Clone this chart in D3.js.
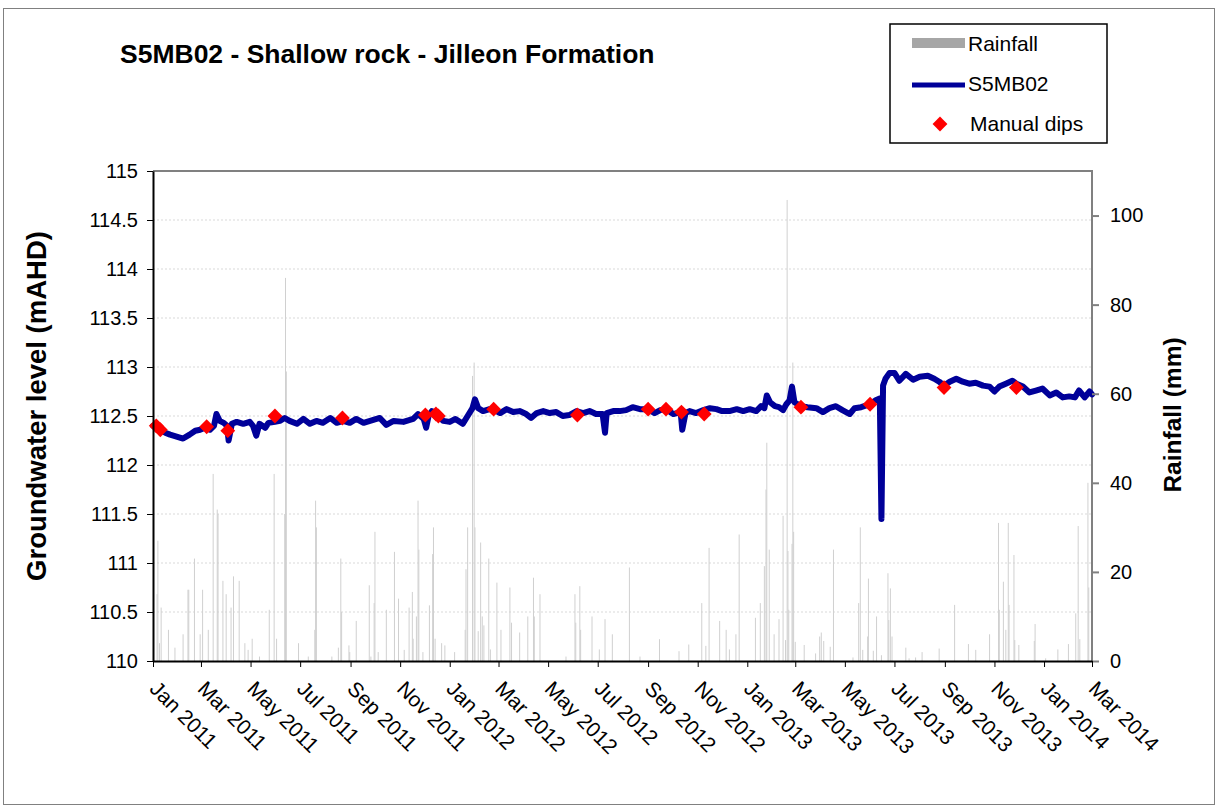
<!DOCTYPE html>
<html>
<head>
<meta charset="utf-8">
<script src="https://cdn.jsdelivr.net/npm/d3@7"></script>
<style>
  body { margin: 0; background: #fff; }
  svg text { font-family: "Liberation Sans", Arial, sans-serif; fill: #000; }
</style>
</head>
<body>
<div id="chart"></div>
<script>
// groundwater level S5MB02 (mAHD)
const levelSeries = [
  ["2011-01-01", 112.40], ["2011-01-16", 112.33], ["2011-01-22", 112.31], ["2011-01-30", 112.29],
  ["2011-02-07", 112.27], ["2011-02-15", 112.31], ["2011-02-22", 112.35], ["2011-02-28", 112.36],
  ["2011-03-06", 112.38], ["2011-03-12", 112.36], ["2011-03-17", 112.40], ["2011-03-20", 112.52],
  ["2011-03-24", 112.45], ["2011-03-29", 112.43], ["2011-04-02", 112.40], ["2011-04-04", 112.25],
  ["2011-04-08", 112.42], ["2011-04-14", 112.44], ["2011-04-22", 112.42], ["2011-04-30", 112.44],
  ["2011-05-04", 112.40], ["2011-05-08", 112.30], ["2011-05-12", 112.42], ["2011-05-19", 112.38],
  ["2011-05-23", 112.43], ["2011-05-31", 112.44], ["2011-06-06", 112.45], ["2011-06-12", 112.48],
  ["2011-06-18", 112.45], ["2011-06-27", 112.42], ["2011-07-05", 112.47], ["2011-07-13", 112.42],
  ["2011-07-21", 112.45], ["2011-07-29", 112.43], ["2011-08-07", 112.48], ["2011-08-15", 112.43],
  ["2011-08-23", 112.45], ["2011-08-31", 112.43], ["2011-09-08", 112.47], ["2011-09-17", 112.43],
  ["2011-09-25", 112.45], ["2011-10-07", 112.48], ["2011-10-15", 112.41], ["2011-10-24", 112.45],
  ["2011-11-05", 112.44], ["2011-11-17", 112.47], ["2011-11-23", 112.52], ["2011-11-30", 112.47],
  ["2011-12-03", 112.38], ["2011-12-06", 112.50], ["2011-12-10", 112.55], ["2011-12-16", 112.52],
  ["2011-12-24", 112.45], ["2012-01-01", 112.44], ["2012-01-08", 112.47], ["2012-01-17", 112.42],
  ["2012-01-23", 112.50], ["2012-01-29", 112.58], ["2012-02-01", 112.67], ["2012-02-05", 112.58],
  ["2012-02-11", 112.55], ["2012-02-19", 112.57], ["2012-02-25", 112.56], ["2012-03-03", 112.53],
  ["2012-03-11", 112.57], ["2012-03-19", 112.54], ["2012-03-27", 112.55], ["2012-04-04", 112.52],
  ["2012-04-10", 112.48], ["2012-04-17", 112.53], ["2012-04-25", 112.55], ["2012-05-03", 112.53],
  ["2012-05-11", 112.54], ["2012-05-19", 112.50], ["2012-05-27", 112.51], ["2012-06-05", 112.55],
  ["2012-06-13", 112.53], ["2012-06-21", 112.55], ["2012-06-29", 112.52], ["2012-07-07", 112.52],
  ["2012-07-10", 112.33], ["2012-07-12", 112.53], ["2012-07-20", 112.55], ["2012-07-28", 112.55],
  ["2012-08-05", 112.56], ["2012-08-13", 112.59], ["2012-08-22", 112.57], ["2012-09-01", 112.57],
  ["2012-09-09", 112.53], ["2012-09-16", 112.56], ["2012-09-23", 112.57], ["2012-10-02", 112.52],
  ["2012-10-11", 112.54], ["2012-10-13", 112.36], ["2012-10-17", 112.53], ["2012-10-22", 112.55],
  ["2012-10-30", 112.53], ["2012-11-08", 112.56], ["2012-11-16", 112.58], ["2012-11-24", 112.57],
  ["2012-12-01", 112.55], ["2012-12-10", 112.55], ["2012-12-19", 112.57], ["2012-12-27", 112.55],
  ["2013-01-04", 112.57], ["2013-01-12", 112.55], ["2013-01-18", 112.60], ["2013-01-22", 112.58],
  ["2013-01-25", 112.71], ["2013-01-29", 112.64], ["2013-02-04", 112.60], ["2013-02-09", 112.59],
  ["2013-02-14", 112.56], ["2013-02-18", 112.62], ["2013-02-22", 112.66], ["2013-02-25", 112.80],
  ["2013-02-28", 112.64], ["2013-03-08", 112.60], ["2013-03-16", 112.59], ["2013-03-27", 112.58],
  ["2013-04-04", 112.54], ["2013-04-12", 112.58], ["2013-04-20", 112.60], ["2013-04-28", 112.56],
  ["2013-05-07", 112.52], ["2013-05-13", 112.58], ["2013-05-21", 112.59], ["2013-06-01", 112.62],
  ["2013-06-08", 112.66], ["2013-06-13", 112.68], ["2013-06-15", 111.45], ["2013-06-17", 112.81],
  ["2013-06-20", 112.88], ["2013-06-25", 112.94], ["2013-07-01", 112.94], ["2013-07-07", 112.86],
  ["2013-07-15", 112.93], ["2013-07-24", 112.87], ["2013-08-01", 112.90], ["2013-08-11", 112.91],
  ["2013-08-19", 112.88], ["2013-08-25", 112.85], ["2013-08-31", 112.81], ["2013-09-07", 112.85],
  ["2013-09-15", 112.88], ["2013-09-23", 112.85], ["2013-10-01", 112.83], ["2013-10-09", 112.84],
  ["2013-10-18", 112.81], ["2013-10-26", 112.80], ["2013-11-01", 112.75], ["2013-11-07", 112.80],
  ["2013-11-15", 112.83], ["2013-11-23", 112.86], ["2013-11-28", 112.83], ["2013-12-06", 112.80],
  ["2013-12-14", 112.74], ["2013-12-22", 112.76], ["2013-12-30", 112.78], ["2014-01-08", 112.71],
  ["2014-01-16", 112.74], ["2014-01-24", 112.69], ["2014-02-01", 112.70], ["2014-02-08", 112.69],
  ["2014-02-13", 112.76], ["2014-02-20", 112.69], ["2014-02-26", 112.75], ["2014-03-01", 112.72]
];

// manual dip measurements (mAHD)
const dipSeries = [
  ["2011-01-05", 112.40], ["2011-01-10", 112.36], ["2011-03-08", 112.39], ["2011-04-03", 112.35],
  ["2011-05-31", 112.50], ["2011-08-22", 112.48], ["2011-12-02", 112.51], ["2011-12-15", 112.52],
  ["2011-12-18", 112.50], ["2012-02-24", 112.57], ["2012-06-06", 112.51], ["2012-09-01", 112.57],
  ["2012-09-23", 112.57], ["2012-10-12", 112.54], ["2012-11-09", 112.52], ["2013-03-08", 112.59],
  ["2013-06-01", 112.62], ["2013-08-31", 112.79], ["2013-11-28", 112.79]
];

// daily rainfall (mm), days with visible bars only
const rainSeries = [
  ["2011-01-06", 15], ["2011-01-07", 27], ["2011-01-09", 4], ["2011-01-11", 12], ["2011-01-20", 7],
  ["2011-01-28", 3], ["2011-02-07", 6], ["2011-02-13", 16], ["2011-02-14", 16], ["2011-02-21", 23],
  ["2011-02-28", 6], ["2011-03-03", 16], ["2011-03-10", 7], ["2011-03-16", 42], ["2011-03-21", 34],
  ["2011-03-22", 33], ["2011-03-28", 18], ["2011-04-01", 15], ["2011-04-07", 12], ["2011-04-10", 19],
  ["2011-04-17", 18], ["2011-04-24", 4], ["2011-04-28", 2.5], ["2011-05-03", 5], ["2011-05-12", 1],
  ["2011-05-24", 11.5], ["2011-05-30", 42], ["2011-06-02", 5], ["2011-06-12", 33], ["2011-06-13", 86],
  ["2011-06-14", 65], ["2011-06-29", 4], ["2011-07-11", 1], ["2011-07-19", 7], ["2011-07-20", 36],
  ["2011-07-21", 30], ["2011-08-09", 1], ["2011-08-17", 3], ["2011-08-20", 23], ["2011-08-21", 11],
  ["2011-08-30", 3.5], ["2011-08-31", 2], ["2011-09-08", 9], ["2011-09-24", 17], ["2011-09-26", 1],
  ["2011-09-30", 13], ["2011-10-01", 29], ["2011-10-05", 2], ["2011-10-15", 11.5], ["2011-10-25", 24.5],
  ["2011-10-30", 14], ["2011-11-06", 2.5], ["2011-11-12", 12], ["2011-11-16", 15.5], ["2011-11-17", 5],
  ["2011-11-21", 10], ["2011-11-23", 36], ["2011-11-24", 25], ["2011-11-29", 2], ["2011-12-07", 12.5],
  ["2011-12-11", 24], ["2011-12-12", 30], ["2011-12-14", 5], ["2011-12-22", 4], ["2011-12-26", 3.5],
  ["2012-01-07", 2], ["2012-01-20", 7], ["2012-01-21", 20.6], ["2012-01-23", 30], ["2012-01-29", 64],
  ["2012-01-31", 67], ["2012-02-01", 30], ["2012-02-05", 6.7], ["2012-02-08", 26.6], ["2012-02-10", 10],
  ["2012-02-12", 8], ["2012-02-18", 23], ["2012-02-20", 2.6], ["2012-02-28", 17.6], ["2012-03-04", 7],
  ["2012-03-15", 16.5], ["2012-03-17", 8.6], ["2012-03-27", 6.4], ["2012-04-06", 10], ["2012-04-13", 18.7],
  ["2012-04-14", 10], ["2012-04-21", 15], ["2012-05-23", 1], ["2012-06-03", 15], ["2012-06-04", 8.6],
  ["2012-06-09", 16.8], ["2012-06-10", 7], ["2012-06-24", 10], ["2012-07-03", 2.6], ["2012-07-10", 9.4],
  ["2012-07-19", 6], ["2012-08-09", 21], ["2012-08-22", 1], ["2012-09-15", 4.9], ["2012-10-09", 2.2],
  ["2012-10-21", 3.7], ["2012-11-06", 13], ["2012-11-11", 3.4], ["2012-11-15", 25.4], ["2012-11-28", 9],
  ["2012-12-06", 7], ["2012-12-10", 2.6], ["2012-12-18", 6], ["2012-12-22", 28.4],
  ["2013-01-11", 9.7], ["2013-01-17", 13], ["2013-01-22", 21.3], ["2013-01-24", 38.5], ["2013-01-25", 49],
  ["2013-01-28", 25], ["2013-02-03", 6], ["2013-02-09", 9.4], ["2013-02-14", 32.6], ["2013-02-17", 4.7],
  ["2013-02-19", 103.5], ["2013-02-20", 24.7], ["2013-02-21", 11.5], ["2013-02-25", 26.3], ["2013-02-26", 67],
  ["2013-02-27", 29], ["2013-03-01", 4.3], ["2013-03-12", 3.6], ["2013-03-26", 1.7], ["2013-03-31", 5.5],
  ["2013-04-02", 6.4], ["2013-04-05", 4.5], ["2013-04-13", 3.2], ["2013-04-17", 25], ["2013-05-11", 0.8],
  ["2013-05-18", 13], ["2013-05-20", 30], ["2013-05-23", 2.5], ["2013-05-29", 5.5], ["2013-05-30", 18.5],
  ["2013-06-05", 2.3], ["2013-06-09", 10], ["2013-06-15", 1.3], ["2013-06-23", 19.7], ["2013-06-24", 9.2],
  ["2013-06-26", 16.3], ["2013-06-28", 5.5], ["2013-07-15", 3], ["2013-07-19", 0.6], ["2013-07-27", 0.8],
  ["2013-08-04", 2], ["2013-08-25", 2.8], ["2013-09-13", 12.6], ["2013-09-30", 3.8], ["2013-10-09", 2.5],
  ["2013-10-26", 6], ["2013-11-06", 31], ["2013-11-07", 11.5], ["2013-11-12", 17.8], ["2013-11-15", 7],
  ["2013-11-18", 31], ["2013-11-19", 12.6], ["2013-11-25", 23.8], ["2013-11-26", 4.7], ["2013-12-01", 3.6],
  ["2013-12-20", 4.5], ["2013-12-21", 8.3],
  ["2014-01-03", 0.6], ["2014-01-18", 2.6], ["2014-01-31", 3.8], ["2014-02-09", 10.7], ["2014-02-12", 30.3],
  ["2014-02-14", 4.9], ["2014-02-24", 40], ["2014-02-25", 16.5]
];

const levelTicks = [110, 110.5, 111, 111.5, 112, 112.5, 113, 113.5, 114, 114.5, 115];
const rainTicks = [0, 20, 40, 60, 80, 100];
const dateRange = ["2011-01-01", "2014-03-01"];

const width = 1217, height = 809;
const plot = { left: 153, top: 171, right: 1092, bottom: 661 };
const parse = d3.timeParse("%Y-%m-%d");

const svg = d3.select("#chart").append("svg")
    .attr("width", width)
    .attr("height", height);

// outer chart frame
svg.append("rect")
    .attr("x", 3.5).attr("y", 8.5)
    .attr("width", 1211).attr("height", 796)
    .attr("fill", "#fff")
    .attr("stroke", "#808080")
    .attr("stroke-width", 1);

const x = d3.scaleTime()
    .domain(dateRange.map(parse))
    .range([plot.left, plot.right]);
const yLevel = d3.scaleLinear().domain([110, 115]).range([plot.bottom, plot.top]);
const yRain = d3.scaleLinear().domain([0, 110]).range([plot.bottom, plot.top]);

// gridlines
svg.append("g")
    .selectAll("line")
    .data(levelTicks.slice(1, -1))
    .enter()
    .append("line")
    .attr("x1", plot.left).attr("x2", plot.right)
    .attr("y1", d => yLevel(d)).attr("y2", d => yLevel(d))
    .attr("stroke", "#d9d9d9")
    .attr("stroke-dasharray", "2,2");

// rainfall bars
svg.append("g")
    .selectAll("rect")
    .data(rainSeries)
    .enter()
    .append("rect")
    .attr("x", d => x(parse(d[0])) - 0.5)
    .attr("width", 1)
    .attr("y", d => yRain(d[1]))
    .attr("height", d => yRain(0) - yRain(d[1]))
    .attr("fill", "#d0d0d0");

// plot frame top / right in grey
svg.append("path")
    .attr("d", `M${plot.left},${plot.top}H${plot.right}V${plot.bottom}`)
    .attr("fill", "none")
    .attr("stroke", "#808080")
    .attr("stroke-width", 2);

// groundwater trace
const line = d3.line()
    .x(d => x(parse(d[0])))
    .y(d => yLevel(d[1]));

svg.append("path")
    .datum(levelSeries)
    .attr("d", line)
    .attr("fill", "none")
    .attr("stroke", "#000099")
    .attr("stroke-width", 6)
    .attr("stroke-linejoin", "round")
    .attr("stroke-linecap", "round");

// manual dips
const diamond = d3.symbol().type(d3.symbolSquare).size(110);
svg.append("g")
    .selectAll("path")
    .data(dipSeries)
    .enter()
    .append("path")
    .attr("d", diamond)
    .attr("transform", d => `translate(${x(parse(d[0]))},${yLevel(d[1])}) rotate(45)`)
    .attr("fill", "#ff0000");

// axes
const leftAxis = svg.append("g")
    .attr("transform", `translate(${plot.left},0)`)
    .call(d3.axisLeft(yLevel).tickValues(levelTicks).tickFormat(d3.format("")).tickSize(6).tickSizeOuter(0).tickPadding(9));
leftAxis.select(".domain").attr("stroke", "#000").attr("stroke-width", 2);
leftAxis.selectAll("text").style("font-size", "20px");

const rightAxis = svg.append("g")
    .attr("transform", `translate(${plot.right},0)`)
    .call(d3.axisRight(yRain).tickValues(rainTicks).tickSize(7).tickSizeOuter(0).tickPadding(11));
rightAxis.select(".domain").remove();
rightAxis.selectAll(".tick line").attr("stroke", "#808080").attr("stroke-width", 2);
rightAxis.selectAll("text").style("font-size", "20px");

const bottomAxis = svg.append("g")
    .attr("transform", `translate(0,${plot.bottom})`)
    .call(d3.axisBottom(x).ticks(d3.timeMonth.every(2)).tickFormat(d3.timeFormat("%b %Y")).tickSize(6).tickSizeOuter(0));
bottomAxis.select(".domain").attr("stroke", "#000").attr("stroke-width", 2);
bottomAxis.selectAll("text")
    .style("font-size", "21px")
    .attr("text-anchor", "start")
    .attr("x", 0).attr("y", 0).attr("dy", 0)
    .attr("transform", "translate(-5,29) rotate(45)");

// titles
svg.append("text")
    .attr("x", 120).attr("y", 63)
    .style("font-size", "26.5px").style("font-weight", "bold")
    .text("S5MB02 - Shallow rock - Jilleon Formation");

svg.append("text")
    .attr("transform", "translate(46,406) rotate(-90)")
    .attr("text-anchor", "middle")
    .style("font-size", "27.5px").style("font-weight", "bold")
    .text("Groundwater level (mAHD)");

svg.append("text")
    .attr("transform", "translate(1181,415) rotate(-90)")
    .attr("text-anchor", "middle")
    .style("font-size", "24.5px").style("font-weight", "bold")
    .text("Rainfall (mm)");

// legend
const legend = svg.append("g").attr("transform", "translate(890,24)");
legend.append("rect")
    .attr("width", 217).attr("height", 119)
    .attr("fill", "#fff")
    .attr("stroke", "#000").attr("stroke-width", 1.5);
legend.append("rect")
    .attr("x", 22).attr("y", 14).attr("width", 53).attr("height", 10)
    .attr("fill", "#a6a6a6");
legend.append("line")
    .attr("x1", 22).attr("x2", 75).attr("y1", 61).attr("y2", 61)
    .attr("stroke", "#000099").attr("stroke-width", 5);
legend.append("path")
    .attr("d", diamond)
    .attr("transform", "translate(50,100) rotate(45)")
    .attr("fill", "#ff0000");
const legendLabels = ["Rainfall", "S5MB02", "Manual dips"];
legend.selectAll("text.lbl")
    .data(legendLabels)
    .enter()
    .append("text")
    .attr("class", "lbl")
    .attr("x", d => d === "Manual dips" ? 80 : 78)
    .attr("y", (d, i) => 27 + i * 40)
    .style("font-size", "21px")
    .text(d => d);
</script>
</body>
</html>
